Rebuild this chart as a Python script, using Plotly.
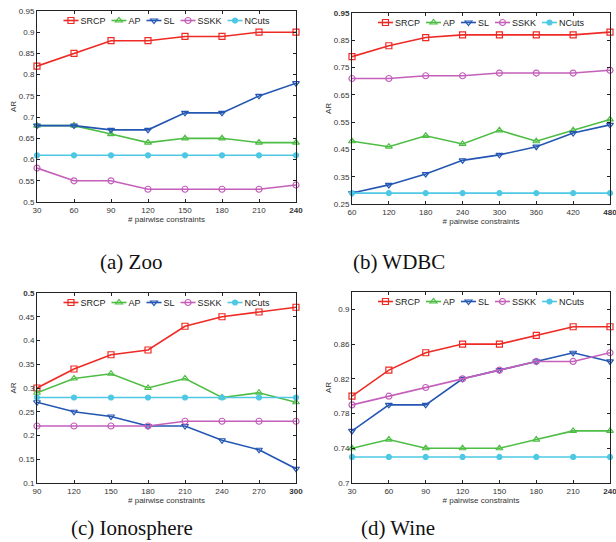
import plotly.graph_objects as go

series_names = ["SRCP", "AP", "SL", "SSKK", "NCuts"]
series_colors = ["#ee2a24", "#4dbd44", "#2456b3", "#c45fba", "#4ec8e4"]
series_symbols = ["square-open", "triangle-up-open", "triangle-down-open", "circle-open", "circle"]

zoo_x = [30, 60, 90, 120, 150, 180, 210, 240]
zoo_srcp = [0.82, 0.85, 0.88, 0.88, 0.89, 0.89, 0.90, 0.90]
zoo_ap = [0.68, 0.68, 0.66, 0.64, 0.65, 0.65, 0.64, 0.64]
zoo_sl = [0.68, 0.68, 0.67, 0.67, 0.71, 0.71, 0.75, 0.78]
zoo_sskk = [0.58, 0.55, 0.55, 0.53, 0.53, 0.53, 0.53, 0.54]
zoo_ncuts = [0.61, 0.61, 0.61, 0.61, 0.61, 0.61, 0.61, 0.61]

wdbc_x = [60, 120, 180, 240, 300, 360, 420, 480]
wdbc_srcp = [0.79, 0.83, 0.86, 0.87, 0.87, 0.87, 0.87, 0.88]
wdbc_ap = [0.48, 0.46, 0.50, 0.47, 0.52, 0.48, 0.52, 0.56]
wdbc_sl = [0.29, 0.32, 0.36, 0.41, 0.43, 0.46, 0.51, 0.54]
wdbc_sskk = [0.71, 0.71, 0.72, 0.72, 0.73, 0.73, 0.73, 0.74]
wdbc_ncuts = [0.29, 0.29, 0.29, 0.29, 0.29, 0.29, 0.29, 0.29]

iono_x = [90, 120, 150, 180, 210, 240, 270, 300]
iono_srcp = [0.30, 0.34, 0.37, 0.38, 0.43, 0.45, 0.46, 0.47]
iono_ap = [0.29, 0.32, 0.33, 0.30, 0.32, 0.28, 0.29, 0.27]
iono_sl = [0.27, 0.25, 0.24, 0.22, 0.22, 0.19, 0.17, 0.13]
iono_sskk = [0.22, 0.22, 0.22, 0.22, 0.23, 0.23, 0.23, 0.23]
iono_ncuts = [0.28, 0.28, 0.28, 0.28, 0.28, 0.28, 0.28, 0.28]

wine_x = [30, 60, 90, 120, 150, 180, 210, 240]
wine_srcp = [0.80, 0.83, 0.85, 0.86, 0.86, 0.87, 0.88, 0.88]
wine_ap = [0.74, 0.75, 0.74, 0.74, 0.74, 0.75, 0.76, 0.76]
wine_sl = [0.76, 0.79, 0.79, 0.82, 0.83, 0.84, 0.85, 0.84]
wine_sskk = [0.79, 0.80, 0.81, 0.82, 0.83, 0.84, 0.84, 0.85]
wine_ncuts = [0.73, 0.73, 0.73, 0.73, 0.73, 0.73, 0.73, 0.73]

captions = ["(a) Zoo", "(b) WDBC", "(c) Ionosphere", "(d) Wine"]

zoo_yticks = [0.5, 0.55, 0.6, 0.65, 0.7, 0.75, 0.8, 0.85, 0.9, 0.95]
zoo_yticktext = ["0.5", "0.55", "0.6", "0.65", "0.7", "0.75", "0.8", "0.85", "0.9", "0.95"]
wdbc_yticks = [0.25, 0.35, 0.45, 0.55, 0.65, 0.75, 0.85, 0.95]
wdbc_yticktext = ["0.25", "0.35", "0.45", "0.55", "0.65", "0.75", "0.85", "<b>0.95</b>"]
iono_yticks = [0.1, 0.15, 0.2, 0.25, 0.3, 0.35, 0.4, 0.45, 0.5]
iono_yticktext = ["0.1", "0.15", "0.2", "0.25", "0.3", "0.35", "0.4", "0.45", "<b>0.5</b>"]
wine_yticks = [0.7, 0.74, 0.78, 0.82, 0.86, 0.9]
wine_yticktext = ["0.7", "0.74", "0.78", "0.82", "0.86", "0.9"]

panels = [
    dict(x=zoo_x, ys=[zoo_srcp, zoo_ap, zoo_sl, zoo_sskk, zoo_ncuts], yr=[0.5, 0.95],
         yt=zoo_yticks, ytt=zoo_yticktext, dx=[37, 296], dy=[11, 202], cap=[131, 262]),
    dict(x=wdbc_x, ys=[wdbc_srcp, wdbc_ap, wdbc_sl, wdbc_sskk, wdbc_ncuts], yr=[0.25, 0.95],
         yt=wdbc_yticks, ytt=wdbc_yticktext, dx=[352, 610], dy=[13, 204], cap=[399, 262]),
    dict(x=iono_x, ys=[iono_srcp, iono_ap, iono_sl, iono_sskk, iono_ncuts], yr=[0.1, 0.5],
         yt=iono_yticks, ytt=iono_yticktext, dx=[37, 296], dy=[293, 483], cap=[132, 528]),
    dict(x=wine_x, ys=[wine_srcp, wine_ap, wine_sl, wine_sskk, wine_ncuts], yr=[0.7, 0.92],
         yt=wine_yticks, ytt=wine_yticktext, dx=[352, 610], dy=[292, 483], cap=[398, 528]),
]

W, H = 616, 542
fig = go.Figure()
SANS = "Liberation Sans, Arial, sans-serif"
tickfont = dict(family=SANS, size=8, color="#333333")
layout = dict(width=W, height=H, margin=dict(l=0, r=0, t=0, b=0, autoexpand=False),
              plot_bgcolor="white", paper_bgcolor="white", showlegend=True)
annotations = []
legend_centers = []

for i, p in enumerate(panels):
    k = "" if i == 0 else str(i + 1)
    xa, ya = "x" + k, "y" + k
    lg = "legend" + k
    for name, col, sym, yv in zip(series_names, series_colors, series_symbols, p["ys"]):
        fig.add_trace(go.Scatter(
            x=p["x"], y=yv, name=name, mode="lines+markers",
            xaxis=xa, yaxis=ya, legend=lg, cliponaxis=False,
            line=dict(color=col, width=1.6),
            marker=dict(symbol=sym, size=6 if sym != "circle" else 5, color=col,
                        line=dict(color=col, width=1.2)),
        ))
    x0, x1 = p["dx"][0] / W, p["dx"][1] / W
    y1, y0 = 1 - p["dy"][0] / H, 1 - p["dy"][1] / H
    legend_centers.append((p["dx"][0] + p["dx"][1]) / 2)
    xt = p["x"]
    xtt = [str(v) for v in xt]
    xtt[-1] = "<b>" + xtt[-1] + "</b>"
    layout["xaxis" + k] = dict(
        domain=[x0, x1], anchor=ya, range=[xt[0], xt[-1]],
        tickvals=xt, ticktext=xtt, ticks="inside", ticklen=3, tickcolor="#222",
        showline=True, linecolor="#222", linewidth=1, mirror="ticks",
        showgrid=False, zeroline=False, tickfont=tickfont, ticklabeloverflow="allow",
        title=dict(text="# pairwise constraints", standoff=1,
                   font=dict(family=SANS, size=8, color="#333333")),
    )
    layout["yaxis" + k] = dict(
        domain=[y0, y1], anchor=xa, range=p["yr"],
        tickvals=p["yt"], ticktext=p["ytt"], ticks="inside", ticklen=3, tickcolor="#222",
        showline=True, linecolor="#222", linewidth=1, mirror="ticks",
        showgrid=False, zeroline=False, tickfont=tickfont, ticklabeloverflow="allow",
        title=dict(text="AR", standoff=1,
                   font=dict(family=SANS, size=8, color="#333333")),
    )
    layout[lg] = dict(
        orientation="h", x=(x0 + x1) / 2, xanchor="center", y=y1 + 5 / H, yanchor="top",
        bgcolor="rgba(255,255,255,0)", borderwidth=0, itemwidth=30,
        font=dict(family=SANS, size=9, color="#222"),
        tracegroupgap=0, itemclick=False, itemdoubleclick=False,
    )
    annotations.append(dict(
        text=captions[i], xref="paper", yref="paper", x=p["cap"][0] / W,
        y=1 - p["cap"][1] / H, xanchor="center", yanchor="middle", showarrow=False,
        font=dict(family="Liberation Serif, Times New Roman, serif", size=21, color="#111"),
    ))

layout["annotations"] = annotations
fig.update_layout(**layout)

# Tighten the native legend entries (short key lines, as in the MATLAB original)
post_js = r"""
document.body.style.margin = '0';
var gd = document.getElementById('{plot_id}');
var CENTERS = __CENTERS__;
function parseT(s){
  var m = /translate\(\s*([-\d.e]+)[\s,]+([-\d.e]+)\s*\)/.exec(s || '');
  return m ? [parseFloat(m[1]), parseFloat(m[2])] : [0, 0];
}
function tighten(){
  var LW = 15, GAP = 2, SEP = 6;
  Array.from(gd.querySelectorAll('g.infolayer > g')).forEach(function(lg){
    var cls = lg.getAttribute('class') || '';
    var mm = /^legend(\d*)$/.exec(cls);
    if(!mm) return;
    var idx = mm[1] ? parseInt(mm[1], 10) - 1 : 0;
    var items = Array.from(lg.querySelectorAll('g.traces'));
    if(!items.length) return;
    lg.querySelectorAll('[clip-path]').forEach(function(e){ e.removeAttribute('clip-path'); });
    var widths = items.map(function(it){
      it.querySelectorAll('path').forEach(function(p){
        var d = p.getAttribute('d') || '';
        if(/^M5,0h30/.test(d)) p.setAttribute('d', 'M0,0h' + LW);
        var tr = p.getAttribute('transform') || '';
        if(/translate\(\s*20[\s,]+0\s*\)/.test(tr)) p.setAttribute('transform', 'translate(' + (LW/2) + ',0)');
      });
      var tx = it.querySelector('text');
      if(!tx) return LW;
      tx.setAttribute('x', LW + GAP);
      tx.querySelectorAll('tspan').forEach(function(t){ if(t.hasAttribute('x')) t.setAttribute('x', LW + GAP); });
      return LW + GAP + tx.getComputedTextLength();
    });
    var total = widths.reduce(function(a,b){return a+b;}, 0) + SEP*(items.length-1);
    var lx = parseT(lg.getAttribute('transform'))[0];
    var x = CENTERS[idx] - lx - total/2;
    items.forEach(function(it, i){
      var y = parseT(it.getAttribute('transform'))[1];
      it.setAttribute('transform', 'translate(' + x + ',' + y + ')');
      var tg = it.querySelector('rect.legendtoggle');
      if(tg){ tg.setAttribute('x', 0); tg.setAttribute('width', widths[i]); }
      x += widths[i] + SEP;
    });
  });
}
tighten();
gd.on('plotly_afterplot', tighten);
setTimeout(tighten, 200);
""".replace("__CENTERS__", str(legend_centers))
fig.write_html("out.html", post_script=post_js, config={"displayModeBar": False})
